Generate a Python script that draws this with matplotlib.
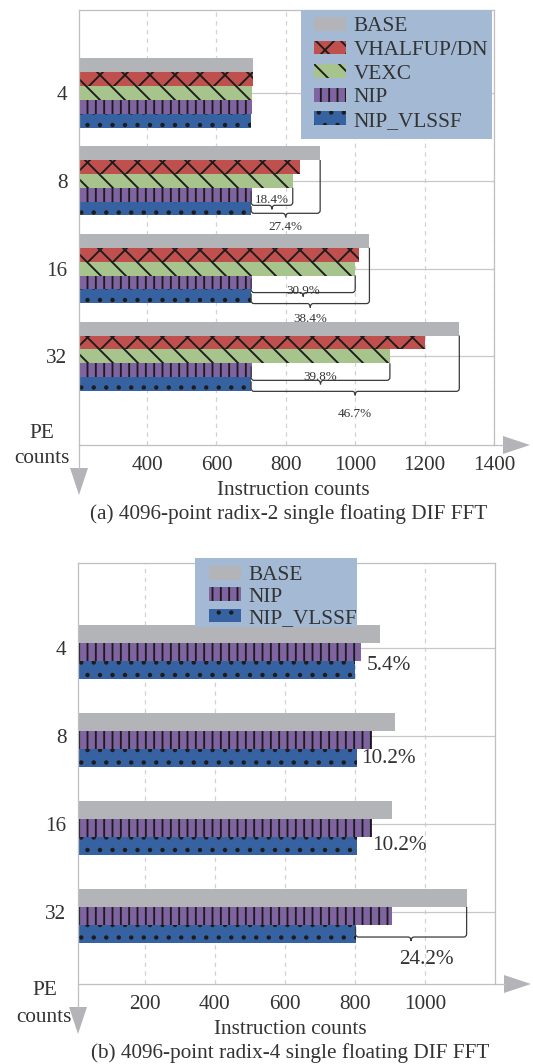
import matplotlib
matplotlib.use('Agg')
import matplotlib.pyplot as plt
from matplotlib.patches import Rectangle, Polygon, PathPatch, Patch
from matplotlib.path import Path
from matplotlib.lines import Line2D

# ---------------- data: chart (a) ----------------
pe_a = ['4', '8', '16', '32']
series_a = ['BASE', 'VHALFUP/DN', 'VEXC', 'NIP', 'NIP_VLSSF']
base_a = [706, 899, 1041, 1300]
vhalf_a = [705, 841, 1010, 1200]
vexc_a = [703, 820, 1000, 1100]
nip_a = [702, 702, 702, 702]
vlssf_a = [700, 700, 700, 700]
inner_pct_a = ['', '18.4%', '30.9%', '39.8%']
outer_pct_a = ['', '27.4%', '38.4%', '46.7%']
xticks_a = [400, 600, 800, 1000, 1200, 1400]

# ---------------- data: chart (b) ----------------
pe_b = ['4', '8', '16', '32']
series_b = ['BASE', 'NIP', 'NIP_VLSSF']
base_b = [873, 914, 907, 1119]
nip_b = [819, 848, 848, 907]
vlssf_b = [800, 805, 805, 802]
pct_b = ['5.4%', '10.2%', '10.2%', '24.2%']
xticks_b = [200, 400, 600, 800, 1000]

# ---------------- style ----------------
W, H, DPI = 533, 1064, 150
plt.rcParams['font.family'] = ['Liberation Serif', 'DejaVu Serif']
plt.rcParams['hatch.linewidth'] = 0.9
TXT = '#333333'
FS = 10.2
colors = {'BASE': '#B3B4B8', 'VHALFUP/DN': '#C0504D', 'VEXC': '#A6C48C',
          'NIP': '#8064A2', 'NIP_VLSSF': '#3762A2'}
hatches = {'BASE': '', 'VHALFUP/DN': 'xx', 'VEXC': '\\\\', 'NIP': '|||', 'NIP_VLSSF': '..'}
HATCH_COL = '#1c1c1c'
LEG_BG = '#A3B9D4'
AXIS_COL = '#BFBFBF'
ARROW_COL = '#B4B4B8'


def fx(px):
    return px / W


def fy(py):
    return 1 - py / H


fig = plt.figure(figsize=(W / DPI, H / DPI), dpi=DPI, facecolor='white')


def setup_axes(rect_px, xlim, ylim, xticks, cats):
    l, t, r, b = rect_px
    ax = fig.add_axes([fx(l), fy(b), (r - l) / W, (b - t) / H])
    ax.set_xlim(*xlim)
    ax.set_ylim(*ylim)
    ax.set_xticks(xticks)
    ax.set_yticks(range(len(cats)))
    ax.set_yticklabels(cats)
    ax.tick_params(axis='both', length=0, labelsize=FS, labelcolor=TXT)
    ax.tick_params(axis='x', pad=5.4)
    ax.tick_params(axis='y', pad=5.6)
    ax.xaxis.grid(True, linestyle=(0, (3.5, 3.5)), color='#D2D2D2', lw=0.6)
    ax.yaxis.grid(True, linestyle='-', color='#C8C8C8', lw=0.6)
    ax.set_axisbelow(True)
    for s in ax.spines.values():
        s.set_color(AXIS_COL)
        s.set_linewidth(0.6)
    sx = (xlim[1] - xlim[0]) / (r - l)
    sy = (ylim[0] - ylim[1]) / (b - t)
    return ax, sx, sy


def brace(ax, x0, x1, yb, yl, yr, sx, sy, tip=4, rad=3):
    rx, ry = rad * sx, rad * sy
    xm = (x0 + x1) / 2
    verts = [(x0, yl), (x0, yb - ry), (x0, yb), (x0 + rx, yb), (xm - rx, yb),
             (xm, yb), (xm, yb + tip * sy), (xm, yb), (xm + rx, yb),
             (x1 - rx, yb), (x1, yb), (x1, yb - ry), (x1, yr)]
    codes = [Path.MOVETO, Path.LINETO, Path.CURVE3, Path.CURVE3, Path.LINETO,
             Path.CURVE3, Path.CURVE3, Path.CURVE3, Path.CURVE3,
             Path.LINETO, Path.CURVE3, Path.CURVE3, Path.LINETO]
    ax.add_patch(PathPatch(Path(verts, codes), fill=False, edgecolor='#3a3a3a',
                           lw=0.6, zorder=3))


def arrows(l, b, r):
    fig.add_artist(Line2D([fx(l), fx(l)], [fy(b), fy(b + 24)], color=AXIS_COL, lw=0.6))
    fig.add_artist(Polygon([(fx(l - 9), fy(b + 23)), (fx(l + 9), fy(b + 23)), (fx(l), fy(b + 50))],
                           closed=True, facecolor=ARROW_COL, edgecolor='none'))
    fig.add_artist(Line2D([fx(r), fx(r + 10)], [fy(b), fy(b)], color=AXIS_COL, lw=0.6))
    fig.add_artist(Polygon([(fx(r + 9), fy(b - 9)), (fx(r + 9), fy(b + 9)), (fx(r + 36), fy(b))],
                           closed=True, facecolor=ARROW_COL, edgecolor='none'))


def legend(ax, names, box_px, anchor_px, spacing):
    l, t, r, b = box_px
    ax.add_patch(Rectangle((fx(l), fy(b)), (r - l) / W, (b - t) / H, transform=fig.transFigure,
                           facecolor=LEG_BG, edgecolor='none', clip_on=False, zorder=4))
    handles = [Patch(facecolor=colors[n], hatch=hatches[n], edgecolor=HATCH_COL, lw=0)
               for n in names]
    lg = ax.legend(handles, names, loc='upper left', bbox_to_anchor=(fx(anchor_px[0]), fy(anchor_px[1])),
                   bbox_transform=fig.transFigure, frameon=False, borderpad=0, borderaxespad=0,
                   handlelength=1.5, handleheight=0.62, handletextpad=0.35,
                   labelspacing=spacing, fontsize=FS, labelcolor=TXT)
    lg.set_zorder(5)


# ================= chart (a) =================
ax1, sx1, sy1 = setup_axes((79, 10, 494, 445), (204, 1400), (4.01, -0.946), xticks_a, pe_a)
vals_a = [base_a, vhalf_a, vexc_a, nip_a, vlssf_a]
h1 = 0.158
for k, (name, vals) in enumerate(zip(series_a, vals_a)):
    ys = [i + (k - 2) * h1 for i in range(len(pe_a))]
    ax1.barh(ys, vals, height=h1, left=0, color=colors[name], hatch=hatches[name],
             edgecolor=HATCH_COL, linewidth=0, zorder=2)

inner_off = [0, 24.5, 24, 24]
inner_lab = [0, 18, 21, 19]
outer_off = [0, 32.5, 35, 35]
outer_lab = [0, 45, 49, 56]
for i in range(1, len(pe_a)):
    x0 = vlssf_a[i]
    brace(ax1, x0, vexc_a[i], i + inner_off[i] * sy1, i + 10 * sy1, i + h1 / 2, sx1, sy1)
    brace(ax1, x0, base_a[i], i + outer_off[i] * sy1, i + (inner_off[i] + 1) * sy1,
          i - 1.5 * h1, sx1, sy1)
    ax1.text((x0 + vexc_a[i]) / 2, i + inner_lab[i] * sy1, inner_pct_a[i], ha='center',
             va='center_baseline', fontsize=6.3, color=TXT, zorder=4)
    ax1.text((x0 + base_a[i]) / 2, i + outer_lab[i] * sy1, outer_pct_a[i], ha='center',
             va='center_baseline', fontsize=6.3, color=TXT, zorder=4)

legend(ax1, series_a, (301, 10, 492, 139), (314, 17), 0.2)
arrows(79, 445, 494)
fig.text(fx(42), fy(438), 'PE', ha='center', va='baseline', fontsize=FS, color=TXT)
fig.text(fx(42), fy(463), 'counts', ha='center', va='baseline', fontsize=FS, color=TXT)
fig.text(fx(293), fy(495), 'Instruction counts', ha='center', va='baseline', fontsize=FS, color=TXT)
fig.text(fx(289), fy(519), '(a) 4096-point radix-2 single floating DIF FFT', ha='center',
         va='baseline', fontsize=FS, color=TXT)

# ================= chart (b) =================
ax2, sx2, sy2 = setup_axes((78, 563, 495, 984), (10, 1200), (3.818, -0.966), xticks_b, pe_b)
vals_b = [base_b, nip_b, vlssf_b]
h2 = 0.205
shift2 = 0.045
for k, (name, vals) in enumerate(zip(series_b, vals_b)):
    ys = [i + shift2 + (k - 1) * h2 for i in range(len(pe_b))]
    ax2.barh(ys, vals, height=h2, left=0, color=colors[name], hatch=hatches[name],
             edgecolor=HATCH_COL, linewidth=0, zorder=2)

lab_off_b = [(12, 15), (5, 20), (16, 19)]
for i in range(3):
    dx, dy = lab_off_b[i]
    ax2.text(vlssf_b[i] + dx * sx2, i + dy * sy2, pct_b[i], ha='left', va='center_baseline',
             fontsize=FS, color=TXT, zorder=4)
i = 3
brace(ax2, vlssf_b[i], base_b[i], i + 25 * sy2, i + 15 * sy2, i + shift2 - h2 / 2, sx2, sy2)
ax2.text((vlssf_b[i] + base_b[i]) / 2 + 15 * sx2, i + 45 * sy2, pct_b[i], ha='center',
         va='center_baseline', fontsize=FS, color=TXT, zorder=4)

legend(ax2, series_b, (195, 558, 357, 627), (209, 566), 0.09)
arrows(78, 984, 495)
fig.text(fx(45), fy(995), 'PE', ha='center', va='baseline', fontsize=FS, color=TXT)
fig.text(fx(44), fy(1022), 'counts', ha='center', va='baseline', fontsize=FS, color=TXT)
fig.text(fx(290), fy(1034), 'Instruction counts', ha='center', va='baseline', fontsize=FS, color=TXT)
fig.text(fx(290), fy(1058), '(b) 4096-point radix-4 single floating DIF FFT', ha='center',
         va='baseline', fontsize=FS, color=TXT)

fig.savefig('out.png', dpi=DPI, facecolor='white')
